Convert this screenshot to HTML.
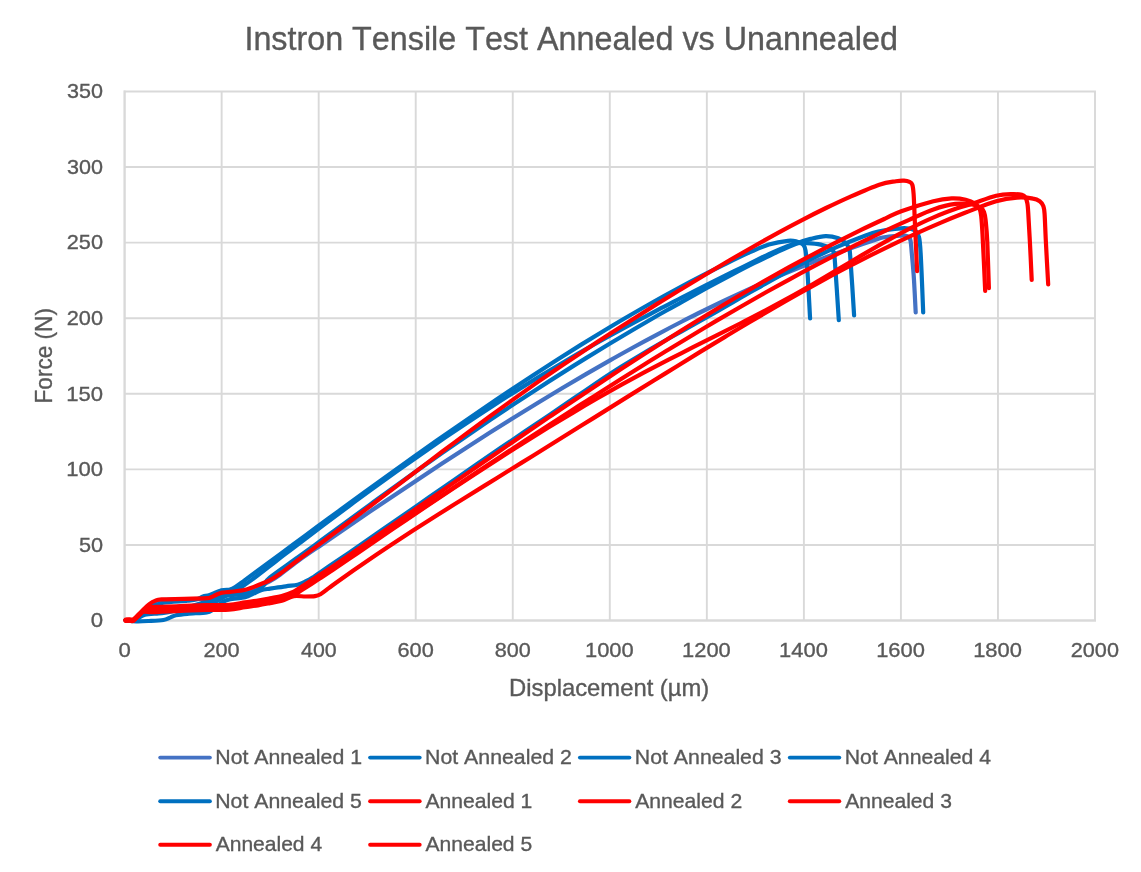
<!DOCTYPE html>
<html lang="en"><head><meta charset="utf-8"><title>Instron Tensile Test Annealed vs Unannealed</title>
<style>html,body{margin:0;padding:0;background:#fff}svg{display:block}text{font-family:"Liberation Sans",sans-serif;fill:#595959;font-kerning:none;stroke:#595959;stroke-width:0.35px}.c{fill:none;stroke-width:4.2;stroke-linecap:round;stroke-linejoin:round}</style></head><body>
<svg width="1141" height="872" viewBox="0 0 1141 872">
<rect width="1141" height="872" fill="#fff"/>
<path d="M124.60 91.50V620.50M221.64 91.50V620.50M318.68 91.50V620.50M415.72 91.50V620.50M512.76 91.50V620.50M609.80 91.50V620.50M706.84 91.50V620.50M803.88 91.50V620.50M900.92 91.50V620.50M997.96 91.50V620.50M1095.00 91.50V620.50M124.60 620.50H1095.00M124.60 544.93H1095.00M124.60 469.36H1095.00M124.60 393.79H1095.00M124.60 318.21H1095.00M124.60 242.64H1095.00M124.60 167.07H1095.00M124.60 91.50H1095.00" stroke="#D9D9D9" stroke-width="1.9" stroke-linecap="square" fill="none"/>
<path d="M124.60 91.50V620.50H1095.00" stroke="#D9D9D9" stroke-width="1.9" stroke-linecap="square" fill="none"/>
<text x="244.42" y="49.60" font-size="32.4" textLength="653.46" lengthAdjust="spacingAndGlyphs">Instron Tensile Test Annealed vs Unannealed</text>
<text x="90.73" y="627.30" font-size="21" textLength="12.33" lengthAdjust="spacingAndGlyphs">0</text>
<text x="78.93" y="551.73" font-size="21" textLength="24.11" lengthAdjust="spacingAndGlyphs">50</text>
<text x="66.22" y="476.16" font-size="21" textLength="36.84" lengthAdjust="spacingAndGlyphs">100</text>
<text x="66.22" y="400.59" font-size="21" textLength="36.84" lengthAdjust="spacingAndGlyphs">150</text>
<text x="66.81" y="325.01" font-size="21" textLength="36.24" lengthAdjust="spacingAndGlyphs">200</text>
<text x="66.81" y="249.44" font-size="21" textLength="36.24" lengthAdjust="spacingAndGlyphs">250</text>
<text x="67.08" y="173.87" font-size="21" textLength="35.96" lengthAdjust="spacingAndGlyphs">300</text>
<text x="67.08" y="98.30" font-size="21" textLength="35.96" lengthAdjust="spacingAndGlyphs">350</text>
<text x="118.43" y="656.80" font-size="21" textLength="12.33" lengthAdjust="spacingAndGlyphs">0</text>
<text x="203.40" y="656.80" font-size="21" textLength="36.24" lengthAdjust="spacingAndGlyphs">200</text>
<text x="301.04" y="656.80" font-size="21" textLength="35.62" lengthAdjust="spacingAndGlyphs">400</text>
<text x="397.47" y="656.80" font-size="21" textLength="36.25" lengthAdjust="spacingAndGlyphs">600</text>
<text x="494.67" y="656.80" font-size="21" textLength="36.08" lengthAdjust="spacingAndGlyphs">800</text>
<text x="585.03" y="656.80" font-size="21" textLength="48.72" lengthAdjust="spacingAndGlyphs">1000</text>
<text x="682.07" y="656.80" font-size="21" textLength="48.72" lengthAdjust="spacingAndGlyphs">1200</text>
<text x="779.11" y="656.80" font-size="21" textLength="48.72" lengthAdjust="spacingAndGlyphs">1400</text>
<text x="876.15" y="656.80" font-size="21" textLength="48.72" lengthAdjust="spacingAndGlyphs">1600</text>
<text x="973.19" y="656.80" font-size="21" textLength="48.72" lengthAdjust="spacingAndGlyphs">1800</text>
<text x="1070.81" y="656.80" font-size="21" textLength="48.13" lengthAdjust="spacingAndGlyphs">2000</text>
<text x="509.05" y="695.60" font-size="23.4" textLength="200.23" lengthAdjust="spacingAndGlyphs">Displacement (µm)</text>
<text x="-1.85" y="0.00" font-size="23.4" textLength="95.35" lengthAdjust="spacingAndGlyphs" transform="translate(52.2 401.6) rotate(-90)">Force (N)</text>
<path class="c" stroke="#4472C4" d="M125.6 620.2C126.8 620.2 131.4 620.5 133.0 620.3C134.6 620.1 133.8 620.1 135.0 619.0C136.2 617.9 138.4 615.6 140.3 613.7C142.2 611.8 144.6 609.4 146.3 607.8C148.0 606.2 149.0 605.2 150.5 604.1C152.0 603.0 153.7 602.1 155.5 601.4C157.3 600.7 156.7 600.3 161.5 600.0C166.3 599.7 176.8 599.7 184.4 599.5C192.1 599.3 203.0 599.0 207.4 598.7C211.8 598.4 209.5 598.4 211.0 597.9C212.5 597.4 214.5 596.3 216.4 595.5C218.3 594.7 219.9 593.6 222.2 593.1C224.5 592.6 226.2 592.9 230.0 592.6C233.8 592.3 240.0 592.6 245.2 591.4C250.4 590.2 256.9 587.1 261.0 585.4C265.1 583.7 266.8 583.0 270.0 581.2C273.2 579.4 275.3 578.2 280.0 574.8C284.7 571.4 291.0 566.0 298.0 561.0C305.0 555.9 314.0 549.9 322.0 544.4C330.0 538.9 338.0 533.4 346.0 527.9C354.0 522.5 362.0 517.0 370.0 511.6C378.0 506.2 386.0 500.8 394.0 495.4C402.0 490.0 410.0 484.7 418.0 479.4C426.0 474.1 434.0 468.8 442.0 463.5C450.0 458.3 458.0 453.1 466.0 447.9C474.0 442.8 482.0 437.7 490.0 432.6C498.0 427.5 506.0 422.5 514.0 417.5C522.0 412.5 530.0 407.6 538.0 402.7C546.0 397.8 554.0 393.0 562.0 388.2C570.0 383.5 578.0 378.8 586.0 374.1C594.0 369.5 602.0 364.9 610.0 360.4C618.0 355.8 626.0 351.4 634.0 347.0C642.0 342.6 650.0 338.3 658.0 334.1C666.0 329.8 674.0 325.6 682.0 321.5C690.0 317.5 698.0 313.4 706.0 309.5C714.0 305.6 722.0 301.7 730.0 298.0C738.0 294.2 746.0 290.5 754.0 286.9C762.0 283.3 770.0 279.8 778.0 276.4C786.0 273.0 794.0 269.7 802.0 266.5C810.0 263.3 818.0 260.1 826.0 257.1C834.0 254.1 842.0 251.2 850.0 248.4C858.0 245.6 868.5 242.1 874.0 240.3C879.5 238.5 878.9 238.2 882.7 237.5C886.6 236.8 893.4 236.1 897.1 235.8C900.8 235.5 903.0 235.4 905.0 235.6C907.0 235.8 907.9 236.1 908.8 237.0C909.7 237.9 910.1 238.3 910.6 241.0C911.1 243.7 911.2 246.9 911.8 253.4C912.4 259.9 913.4 270.1 914.0 280.0C914.6 289.9 915.4 307.1 915.7 312.5"/>
<path class="c" stroke="#0070C0" d="M125.6 620.2C126.9 620.2 131.7 620.6 133.4 620.3C135.1 620.0 134.6 619.8 136.0 618.5C137.4 617.2 139.7 614.4 142.0 612.5C144.3 610.6 146.3 608.6 149.9 607.0C153.5 605.4 157.1 603.8 163.4 602.7C169.7 601.7 181.9 601.3 187.5 600.7C193.1 600.1 194.4 600.0 197.0 599.3C199.6 598.6 200.9 597.2 203.0 596.5C205.1 595.8 206.6 596.0 209.7 595.0C212.8 594.0 218.1 591.3 221.5 590.4C224.9 589.5 227.8 590.1 230.0 589.6C232.2 589.1 232.5 588.9 235.0 587.3C237.5 585.7 239.5 584.1 245.2 579.9C250.9 575.7 261.2 568.1 269.2 562.2C277.2 556.3 285.2 550.4 293.2 544.5C301.2 538.6 309.2 532.7 317.2 526.8C325.2 521.0 333.2 515.1 341.2 509.3C349.2 503.4 357.2 497.6 365.2 491.8C373.2 486.0 381.2 480.2 389.2 474.5C397.2 468.7 405.2 463.0 413.2 457.3C421.2 451.6 429.2 446.0 437.2 440.3C445.2 434.7 453.2 429.1 461.2 423.6C469.2 418.1 477.2 412.6 485.2 407.2C493.2 401.7 501.2 396.3 509.2 391.0C517.2 385.7 525.2 380.4 533.2 375.2C541.2 370.0 549.2 364.8 557.2 359.7C565.2 354.6 573.2 349.6 581.2 344.6C589.2 339.7 597.2 334.8 605.2 330.0C613.2 325.2 621.2 320.4 629.2 315.8C637.2 311.1 645.2 306.5 653.2 302.0C661.2 297.5 669.2 293.1 677.2 288.8C685.2 284.5 693.2 280.3 701.2 276.2C709.2 272.0 717.1 268.1 725.2 264.1C733.3 260.1 742.7 255.5 750.0 252.2C757.3 249.0 762.6 246.5 768.9 244.6C775.2 242.7 783.3 241.3 787.9 240.8C792.5 240.3 794.2 240.9 796.7 241.5C799.2 242.1 801.5 243.1 803.0 244.6C804.5 246.1 804.8 246.0 805.5 250.3C806.2 254.6 806.6 259.1 807.4 270.5C808.2 281.9 809.6 310.4 810.1 318.4"/>
<path class="c" stroke="#0070C0" d="M125.6 620.2C126.9 620.2 131.7 620.7 133.6 620.3C135.5 619.9 135.4 619.2 137.0 618.0C138.6 616.8 140.8 614.3 143.0 613.0C145.2 611.7 144.2 610.8 150.0 610.0C155.8 609.2 169.7 609.0 178.0 608.4C186.3 607.8 193.8 607.6 200.0 606.5C206.2 605.4 210.8 603.7 215.0 602.0C219.2 600.3 222.0 598.2 225.0 596.5C228.0 594.8 230.4 593.5 233.0 592.0C235.6 590.5 237.2 589.8 240.5 587.6C243.8 585.4 247.0 583.4 253.1 578.9C259.2 574.4 269.1 566.5 277.1 560.3C285.1 554.2 293.1 548.0 301.1 542.0C309.1 535.9 317.1 529.8 325.1 523.8C333.1 517.8 341.1 511.9 349.1 506.0C357.1 500.0 365.1 494.2 373.1 488.4C381.1 482.6 389.1 476.8 397.1 471.1C405.1 465.4 413.1 459.8 421.1 454.2C429.1 448.6 437.1 443.1 445.1 437.6C453.1 432.2 461.1 426.8 469.1 421.5C477.1 416.1 485.1 410.9 493.1 405.7C501.1 400.5 509.1 395.4 517.1 390.4C525.1 385.4 533.1 380.4 541.1 375.6C549.1 370.7 557.1 365.9 565.1 361.2C573.1 356.5 581.1 351.9 589.1 347.4C597.1 342.8 605.1 338.4 613.1 334.0C621.1 329.6 629.1 325.2 637.1 320.9C645.1 316.7 653.1 312.4 661.1 308.2C669.1 304.1 677.1 299.9 685.1 295.9C693.1 291.8 701.1 287.7 709.1 283.7C717.1 279.7 725.1 275.7 733.1 271.7C741.1 267.8 751.1 262.8 757.1 259.9C763.1 257.0 763.8 256.5 768.9 254.1C774.0 251.8 783.3 247.7 787.9 245.9C792.5 244.1 793.6 243.8 796.7 243.3C799.9 242.8 802.8 242.9 806.8 243.1C810.8 243.3 816.7 243.7 820.7 244.6C824.7 245.5 828.7 247.2 830.8 248.4C832.9 249.6 832.8 250.1 833.5 252.0C834.2 253.9 833.9 248.6 834.8 260.0C835.7 271.4 838.1 310.2 838.8 320.2"/>
<path class="c" stroke="#0070C0" d="M125.6 620.2C127.0 620.2 132.2 620.6 134.0 620.5C135.8 620.4 135.6 620.0 136.5 619.5C137.4 619.0 137.9 618.4 139.3 617.6C140.7 616.8 141.8 615.4 145.0 614.7C148.2 614.0 154.7 613.7 158.6 613.3C162.5 612.9 163.8 613.2 168.2 612.3C172.6 611.4 179.1 609.6 185.0 608.0C190.9 606.4 198.2 604.3 203.4 602.6C208.6 600.9 212.7 599.1 216.0 597.9C219.3 596.7 218.2 596.2 223.1 595.5C228.0 594.8 239.5 594.8 245.2 593.9C250.8 593.0 253.9 591.9 257.0 590.4C260.1 588.9 261.8 587.2 264.0 585.0C266.2 582.8 264.3 582.0 270.0 577.4C275.7 572.8 289.3 563.6 298.0 557.3C306.7 551.0 314.0 545.6 322.0 539.8C330.0 533.9 338.0 528.1 346.0 522.2C354.0 516.3 362.0 510.4 370.0 504.6C378.0 498.8 386.0 492.9 394.0 487.2C402.0 481.4 410.0 475.7 418.0 470.0C426.0 464.3 434.0 458.6 442.0 453.0C450.0 447.4 458.0 441.9 466.0 436.4C474.0 430.9 482.0 425.5 490.0 420.1C498.0 414.7 506.0 409.4 514.0 404.1C522.0 398.8 530.0 393.6 538.0 388.4C546.0 383.2 554.0 378.1 562.0 373.1C570.0 368.0 578.0 363.0 586.0 358.1C594.0 353.2 602.0 348.3 610.0 343.5C618.0 338.7 626.0 334.0 634.0 329.3C642.0 324.6 650.0 319.9 658.0 315.3C666.0 310.8 674.0 306.2 682.0 301.8C690.0 297.3 698.0 292.9 706.0 288.5C714.0 284.1 722.0 279.8 730.0 275.6C738.0 271.4 746.0 267.2 754.0 263.2C762.0 259.3 770.9 255.0 778.0 251.7C785.1 248.4 791.3 245.6 796.7 243.5C802.1 241.3 805.8 240.1 810.6 238.9C815.4 237.7 821.1 236.2 825.7 236.1C830.3 236.0 834.9 237.1 838.3 238.3C841.7 239.5 844.1 241.7 845.9 243.3C847.6 244.9 848.1 245.9 848.8 248.0C849.5 250.1 849.3 244.8 850.2 256.0C851.1 267.2 853.5 305.4 854.1 315.3"/>
<path class="c" stroke="#0070C0" d="M125.6 620.2C127.4 620.4 132.5 621.2 136.4 621.3C140.3 621.4 144.5 621.2 149.0 621.0C153.5 620.8 159.9 620.6 163.4 620.0C166.9 619.4 168.0 618.4 170.1 617.6C172.2 616.8 173.0 615.8 175.9 615.2C178.8 614.6 182.3 614.2 187.5 613.8C192.7 613.3 202.8 612.9 206.8 612.3C210.8 611.7 208.9 612.1 211.6 610.4C214.3 608.6 220.1 603.6 223.1 601.8C226.1 600.0 225.7 600.2 229.4 599.4C233.1 598.6 241.3 598.0 245.2 597.1C249.1 596.2 250.4 595.0 253.0 593.9C255.6 592.8 258.2 591.1 261.0 590.2C263.8 589.3 265.9 589.2 270.0 588.6C274.1 588.0 281.2 586.9 285.8 586.3C290.4 585.6 294.3 585.5 297.6 584.7C300.9 583.9 303.0 582.7 305.5 581.5C308.0 580.3 310.4 579.0 312.6 577.6C314.8 576.2 315.1 575.7 318.5 573.4C321.9 571.1 326.7 568.0 333.1 563.6C339.5 559.2 349.1 552.7 357.1 547.2C365.1 541.7 373.1 536.2 381.1 530.6C389.1 525.1 397.1 519.6 405.1 514.0C413.1 508.4 421.1 502.9 429.1 497.3C437.1 491.8 445.1 486.2 453.1 480.7C461.1 475.1 469.1 469.6 477.1 464.1C485.1 458.6 493.1 453.1 501.1 447.6C509.1 442.2 517.1 436.8 525.1 431.3C533.1 425.9 541.1 420.6 549.1 415.2C557.1 409.7 565.1 404.3 573.1 398.8C581.1 393.4 589.1 387.9 597.1 382.5C605.1 377.2 613.1 371.9 621.1 366.9C629.1 361.8 637.1 356.9 645.1 352.2C653.1 347.4 661.1 342.9 669.1 338.3C677.1 333.8 685.1 329.4 693.1 324.9C701.1 320.4 709.1 315.9 717.1 311.3C725.1 306.8 733.1 302.1 741.1 297.5C749.1 293.0 757.1 288.3 765.1 283.9C773.1 279.4 781.1 274.9 789.1 270.6C797.1 266.3 805.1 262.1 813.1 258.2C821.1 254.2 829.1 250.4 837.1 246.9C845.1 243.4 854.2 239.8 861.1 237.2C868.0 234.7 871.6 233.0 878.3 231.5C885.0 230.0 896.0 228.7 901.3 228.3C906.6 227.9 907.6 228.4 910.0 228.8C912.4 229.2 914.0 229.8 915.5 231.0C917.0 232.2 917.9 232.4 918.7 236.0C919.6 239.6 919.9 239.8 920.6 252.6C921.4 265.4 922.8 302.5 923.2 312.5"/>
<path class="c" stroke="#FF0000" d="M125.6 620.2C126.2 620.1 128.1 619.8 129.3 619.8C130.5 619.8 131.7 620.4 132.6 620.2C133.5 620.0 133.3 619.8 134.5 618.6C135.7 617.4 137.9 615.1 139.8 613.2C141.7 611.3 144.1 608.9 145.8 607.3C147.5 605.7 148.5 604.7 150.0 603.6C151.5 602.5 153.1 601.6 155.0 600.9C156.9 600.2 156.6 599.7 161.5 599.4C166.4 599.1 176.8 599.1 184.4 598.9C192.1 598.7 203.0 598.4 207.4 598.1C211.8 597.8 209.5 597.9 211.0 597.3C212.5 596.7 214.5 595.5 216.4 594.7C218.3 593.9 219.9 593.1 222.2 592.6C224.5 592.1 226.2 592.4 230.0 591.9C233.8 591.4 240.0 591.1 245.2 589.8C250.4 588.5 256.9 585.6 261.0 584.0C265.1 582.4 266.8 581.9 270.0 580.2C273.2 578.5 275.3 577.2 280.0 573.8C284.7 570.4 291.0 565.3 298.0 560.0C305.0 554.8 314.0 548.2 322.0 542.3C330.0 536.3 338.0 530.3 346.0 524.3C354.0 518.3 362.0 512.3 370.0 506.2C378.0 500.2 386.0 494.1 394.0 488.1C402.0 482.0 410.0 475.9 418.0 469.9C426.0 463.9 434.0 457.8 442.0 451.8C450.0 445.8 458.0 439.9 466.0 433.9C474.0 428.0 482.0 422.1 490.0 416.3C498.0 410.4 506.0 404.6 514.0 398.9C522.0 393.2 530.0 387.5 538.0 381.9C546.0 376.3 554.0 370.8 562.0 365.4C570.0 360.0 578.0 354.7 586.0 349.4C594.0 344.1 602.0 338.9 610.0 333.8C618.0 328.6 626.0 323.5 634.0 318.5C642.0 313.4 650.0 308.4 658.0 303.4C666.0 298.5 674.0 293.5 682.0 288.7C690.0 283.8 698.0 279.0 706.0 274.2C714.0 269.4 722.0 264.7 730.0 260.0C738.0 255.4 746.0 250.8 754.0 246.3C762.0 241.7 770.0 237.3 778.0 232.9C786.0 228.5 794.0 224.2 802.0 220.1C810.0 215.9 818.0 211.9 826.0 208.0C834.0 204.1 841.1 200.7 850.0 196.8C858.9 192.9 871.6 187.3 879.3 184.7C887.0 182.1 891.9 181.9 896.0 181.2C900.1 180.5 901.8 180.5 904.0 180.6C906.2 180.7 908.1 181.2 909.5 181.9C910.9 182.6 911.6 182.7 912.3 184.7C913.0 186.7 913.1 187.2 913.6 193.9C914.1 200.6 914.4 212.1 915.0 225.0C915.6 237.9 916.8 263.4 917.1 271.1"/>
<path class="c" stroke="#FF0000" d="M125.6 619.5C126.2 619.5 128.1 619.3 129.3 619.3C130.5 619.3 131.9 619.7 132.8 619.7C133.8 619.6 133.9 619.9 135.0 619.0C136.1 618.1 138.2 615.8 139.5 614.6C140.8 613.4 141.4 612.8 143.0 611.6C144.6 610.4 145.9 608.2 149.0 607.4C152.1 606.6 155.6 607.1 161.5 606.9C167.4 606.6 176.8 606.2 184.4 605.9C192.1 605.6 200.0 605.3 207.4 605.1C214.8 604.9 222.7 605.3 229.0 604.9C235.3 604.5 240.2 603.1 245.0 602.4C249.8 601.7 253.8 601.3 258.0 600.6C262.2 599.9 266.0 599.1 270.0 598.3C274.0 597.5 277.9 597.0 281.8 595.9C285.8 594.8 290.4 593.1 293.7 591.6C297.0 590.1 297.4 589.4 301.5 586.7C305.6 584.1 313.2 579.1 318.5 575.7C323.8 572.3 326.7 570.5 333.1 566.2C339.5 561.9 349.1 555.2 357.1 549.7C365.1 544.2 373.1 538.6 381.1 533.1C389.1 527.5 397.1 522.0 405.1 516.4C413.1 510.9 421.1 505.3 429.1 499.8C437.1 494.2 445.1 488.6 453.1 483.1C461.1 477.5 469.1 472.0 477.1 466.5C485.1 460.9 493.1 455.4 501.1 449.9C509.1 444.4 517.1 438.9 525.1 433.4C533.1 427.9 541.1 422.5 549.1 417.1C557.1 411.7 565.1 406.2 573.1 400.9C581.1 395.5 589.1 390.2 597.1 384.9C605.1 379.6 613.1 374.3 621.1 369.1C629.1 363.9 637.1 358.7 645.1 353.5C653.1 348.4 661.1 343.3 669.1 338.3C677.1 333.2 685.1 328.2 693.1 323.3C701.1 318.4 709.1 313.5 717.1 308.7C725.1 303.9 733.1 299.1 741.1 294.5C749.1 289.8 757.1 285.2 765.1 280.6C773.1 276.1 781.1 271.6 789.1 267.2C797.1 262.8 805.1 258.5 813.1 254.3C821.1 250.0 829.1 245.9 837.1 241.8C845.1 237.8 853.1 233.8 861.1 229.9C869.1 226.0 878.4 221.7 885.1 218.6C891.8 215.5 893.2 214.2 901.3 211.3C909.3 208.4 925.0 203.3 933.4 201.2C941.8 199.1 946.3 198.7 951.7 198.4C957.1 198.2 961.8 198.8 965.7 199.7C969.6 200.6 973.0 202.2 975.3 203.7C977.6 205.2 978.5 206.4 979.5 208.5C980.5 210.6 980.7 211.7 981.2 216.0C981.7 220.3 981.8 221.7 982.5 234.2C983.2 246.7 984.8 281.5 985.2 291.0"/>
<path class="c" stroke="#FF0000" d="M125.6 620.2C126.2 620.2 128.1 620.0 129.3 620.0C130.5 620.0 131.9 620.6 132.8 620.4C133.8 620.2 133.9 620.0 135.0 619.0C136.1 618.0 138.2 615.8 139.5 614.6C140.8 613.4 141.4 612.5 143.0 611.6C144.6 610.7 145.9 609.6 149.0 609.1C152.1 608.6 155.6 608.9 161.5 608.6C167.4 608.4 176.8 607.9 184.4 607.6C192.1 607.3 200.0 607.0 207.4 606.8C214.8 606.6 222.7 607.0 229.0 606.6C235.3 606.2 240.2 604.8 245.0 604.1C249.8 603.4 253.8 603.0 258.0 602.3C262.2 601.6 266.0 600.8 270.0 600.0C274.0 599.2 277.9 598.7 281.8 597.6C285.8 596.5 290.4 594.9 293.7 593.4C297.0 591.9 297.4 591.1 301.5 588.5C305.6 585.9 313.2 580.9 318.5 577.5C323.8 574.1 326.7 572.3 333.1 568.0C339.5 563.8 349.1 557.3 357.1 552.0C365.1 546.6 373.1 541.3 381.1 535.9C389.1 530.6 397.1 525.2 405.1 519.9C413.1 514.6 421.1 509.2 429.1 503.9C437.1 498.6 445.1 493.2 453.1 487.9C461.1 482.6 469.1 477.3 477.1 472.1C485.1 466.8 493.1 461.5 501.1 456.2C509.1 451.0 517.1 445.8 525.1 440.5C533.1 435.3 541.1 430.1 549.1 424.9C557.1 419.8 565.1 414.6 573.1 409.5C581.1 404.4 589.1 399.2 597.1 394.2C605.1 389.1 613.1 384.0 621.1 379.0C629.1 374.0 637.1 369.0 645.1 364.0C653.1 359.1 661.1 354.1 669.1 349.3C677.1 344.4 685.1 339.5 693.1 334.7C701.1 329.9 709.1 325.2 717.1 320.4C725.1 315.7 733.1 311.1 741.1 306.5C749.1 301.9 757.1 297.3 765.1 292.8C773.1 288.3 781.1 283.9 789.1 279.6C797.1 275.2 805.1 270.9 813.1 266.7C821.1 262.5 829.1 258.3 837.1 254.2C845.1 250.2 853.1 246.2 861.1 242.3C869.1 238.4 877.1 234.5 885.1 230.8C893.1 227.1 901.1 223.4 909.1 219.9C917.1 216.3 925.7 212.0 933.4 209.4C941.1 206.7 948.9 204.7 955.4 203.9C961.9 203.1 967.9 203.9 972.1 204.5C976.4 205.1 978.9 206.4 980.9 207.7C982.9 208.9 983.2 209.9 984.0 212.0C984.8 214.1 985.1 215.0 985.6 220.0C986.1 225.0 986.8 230.8 987.3 242.2C987.8 253.6 988.6 280.5 988.9 288.2"/>
<path class="c" stroke="#FF0000" d="M125.6 620.9C126.2 620.9 128.1 620.7 129.3 620.7C130.5 620.7 131.9 621.4 132.8 621.1C133.8 620.8 133.9 620.1 135.0 619.0C136.1 617.9 138.2 615.8 139.5 614.6C140.8 613.4 141.4 612.2 143.0 611.6C144.6 611.0 145.9 611.0 149.0 610.8C152.1 610.6 155.6 610.6 161.5 610.3C167.4 610.1 176.8 609.6 184.4 609.3C192.1 609.0 200.0 608.7 207.4 608.5C214.8 608.3 222.7 608.8 229.0 608.3C235.3 607.9 240.2 606.5 245.0 605.8C249.8 605.1 253.8 604.7 258.0 604.0C262.2 603.3 266.0 602.5 270.0 601.7C274.0 600.9 277.9 600.4 281.8 599.3C285.8 598.2 290.4 596.6 293.7 595.1C297.0 593.6 297.4 592.9 301.5 590.3C305.6 587.7 313.2 582.7 318.5 579.3C323.8 575.9 326.7 574.1 333.1 569.8C339.5 565.5 349.1 558.9 357.1 553.4C365.1 548.0 373.1 542.5 381.1 537.0C389.1 531.6 397.1 526.1 405.1 520.7C413.1 515.3 421.1 509.9 429.1 504.5C437.1 499.2 445.1 493.8 453.1 488.5C461.1 483.2 469.1 477.9 477.1 472.7C485.1 467.5 493.1 462.3 501.1 457.2C509.1 452.0 517.1 447.0 525.1 441.9C533.1 436.9 541.1 431.9 549.1 427.0C557.1 422.1 565.1 417.3 573.1 412.6C581.1 407.8 589.1 403.1 597.1 398.5C605.1 393.9 613.1 389.4 621.1 384.9C629.1 380.5 637.1 376.2 645.1 371.9C653.1 367.7 661.1 363.5 669.1 359.4C677.1 355.3 685.1 351.3 693.1 347.2C701.1 343.2 709.1 339.2 717.1 335.2C725.1 331.2 733.1 327.1 741.1 323.0C749.1 319.0 757.1 314.8 765.1 310.6C773.1 306.4 781.1 302.1 789.1 297.7C797.1 293.3 805.1 288.7 813.1 284.1C821.1 279.5 829.1 274.7 837.1 269.9C845.1 265.2 853.1 260.3 861.1 255.6C869.1 250.9 877.1 246.2 885.1 241.8C893.1 237.3 901.1 233.0 909.1 228.9C917.1 224.9 925.1 221.0 933.1 217.6C941.1 214.1 950.6 210.6 957.1 208.3C963.6 205.9 965.6 205.8 972.1 203.7C978.6 201.6 989.5 197.3 996.2 195.7C1002.9 194.1 1007.9 194.2 1012.2 194.1C1016.5 194.0 1019.7 194.3 1021.9 194.9C1024.1 195.5 1024.6 196.2 1025.5 197.5C1026.4 198.8 1026.8 200.6 1027.3 203.0C1027.8 205.4 1027.8 205.5 1028.2 212.0C1028.6 218.5 1029.3 230.9 1029.9 242.2C1030.5 253.5 1031.4 273.5 1031.7 279.8"/>
<path class="c" stroke="#FF0000" d="M125.6 620.6C126.2 620.6 128.1 620.4 129.3 620.4C130.5 620.4 131.9 621.0 132.8 620.8C133.8 620.6 133.9 620.0 135.0 619.0C136.1 618.0 138.2 615.8 139.5 614.6C140.8 613.4 141.4 612.0 143.0 611.6C144.6 611.2 145.9 612.2 149.0 612.2C152.1 612.2 155.6 612.0 161.5 611.7C167.4 611.5 176.8 611.0 184.4 610.7C192.1 610.4 200.0 610.1 207.4 609.9C214.8 609.7 222.7 610.2 229.0 609.7C235.3 609.2 240.2 607.9 245.0 607.2C249.8 606.5 253.8 606.1 258.0 605.4C262.2 604.7 266.0 603.9 270.0 603.1C274.0 602.3 277.9 601.9 281.8 600.7C285.8 599.6 289.8 596.9 293.7 596.2C297.6 595.5 301.9 596.5 305.5 596.5C309.1 596.5 312.5 596.5 315.0 596.1C317.5 595.7 318.1 595.6 320.5 594.2C322.9 592.8 325.7 590.4 329.1 587.9C332.5 585.4 335.0 583.4 341.0 579.2C347.0 574.9 357.0 567.9 365.0 562.5C373.0 557.0 381.0 551.6 389.0 546.3C397.0 541.0 405.0 535.8 413.0 530.6C421.0 525.5 429.0 520.4 437.0 515.3C445.0 510.2 453.0 505.2 461.0 500.3C469.0 495.3 477.0 490.3 485.0 485.4C493.0 480.4 501.0 475.5 509.0 470.5C517.0 465.6 525.0 460.6 533.0 455.7C541.0 450.7 549.0 445.7 557.0 440.8C565.0 435.8 573.0 430.8 581.0 425.8C589.0 420.8 597.0 415.9 605.0 410.9C613.0 405.9 621.0 400.9 629.0 395.9C637.0 391.0 645.0 386.0 653.0 381.0C661.0 376.1 669.0 371.1 677.0 366.2C685.0 361.2 693.0 356.3 701.0 351.4C709.0 346.5 717.0 341.7 725.0 336.9C733.0 332.0 741.0 327.3 749.0 322.5C757.0 317.8 765.0 313.1 773.0 308.5C781.0 303.8 789.0 299.2 797.0 294.7C805.0 290.2 813.0 285.8 821.0 281.4C829.0 277.0 837.0 272.7 845.0 268.5C853.0 264.3 861.0 260.2 869.0 256.1C877.0 252.1 885.0 248.2 893.0 244.3C901.0 240.5 909.0 236.7 917.0 233.1C925.0 229.5 933.0 226.0 941.0 222.6C949.0 219.2 955.8 216.4 965.0 212.8C974.2 209.3 987.5 203.8 996.2 201.3C1004.9 198.7 1010.9 198.0 1017.0 197.6C1023.1 197.2 1029.3 197.9 1033.1 198.6C1036.9 199.2 1038.3 200.3 1040.0 201.5C1041.7 202.7 1042.5 203.9 1043.3 206.0C1044.1 208.1 1044.2 208.0 1044.6 214.0C1045.0 220.0 1045.3 230.4 1045.9 242.2C1046.5 253.9 1047.8 277.4 1048.2 284.5"/>
<path d="M160.2 757.6H209.9" stroke="#4472C4" stroke-width="3.9" stroke-linecap="round" fill="none"/>
<text x="215.25" y="764.00" font-size="21" textLength="146.79" lengthAdjust="spacingAndGlyphs">Not Annealed 1</text>
<path d="M370.1 757.6H419.7" stroke="#0070C0" stroke-width="3.9" stroke-linecap="round" fill="none"/>
<text x="425.05" y="764.00" font-size="21" textLength="146.82" lengthAdjust="spacingAndGlyphs">Not Annealed 2</text>
<path d="M579.9 757.6H629.4" stroke="#0070C0" stroke-width="3.9" stroke-linecap="round" fill="none"/>
<text x="634.85" y="764.00" font-size="21" textLength="146.68" lengthAdjust="spacingAndGlyphs">Not Annealed 3</text>
<path d="M789.8 757.6H839.3" stroke="#0070C0" stroke-width="3.9" stroke-linecap="round" fill="none"/>
<text x="844.76" y="764.00" font-size="21" textLength="146.36" lengthAdjust="spacingAndGlyphs">Not Annealed 4</text>
<path d="M160.2 801.2H209.9" stroke="#0070C0" stroke-width="3.9" stroke-linecap="round" fill="none"/>
<text x="215.26" y="807.60" font-size="21" textLength="146.64" lengthAdjust="spacingAndGlyphs">Not Annealed 5</text>
<path d="M370.1 801.2H419.7" stroke="#FF0000" stroke-width="3.9" stroke-linecap="round" fill="none"/>
<text x="425.46" y="807.60" font-size="21" textLength="106.87" lengthAdjust="spacingAndGlyphs">Annealed 1</text>
<path d="M579.9 801.2H629.4" stroke="#FF0000" stroke-width="3.9" stroke-linecap="round" fill="none"/>
<text x="635.26" y="807.60" font-size="21" textLength="106.90" lengthAdjust="spacingAndGlyphs">Annealed 2</text>
<path d="M789.8 801.2H839.3" stroke="#FF0000" stroke-width="3.9" stroke-linecap="round" fill="none"/>
<text x="845.16" y="807.60" font-size="21" textLength="106.77" lengthAdjust="spacingAndGlyphs">Annealed 3</text>
<path d="M160.2 844.8H209.9" stroke="#FF0000" stroke-width="3.9" stroke-linecap="round" fill="none"/>
<text x="215.66" y="851.20" font-size="21" textLength="106.46" lengthAdjust="spacingAndGlyphs">Annealed 4</text>
<path d="M370.1 844.8H419.7" stroke="#FF0000" stroke-width="3.9" stroke-linecap="round" fill="none"/>
<text x="425.46" y="851.20" font-size="21" textLength="106.73" lengthAdjust="spacingAndGlyphs">Annealed 5</text>
</svg></body></html>
